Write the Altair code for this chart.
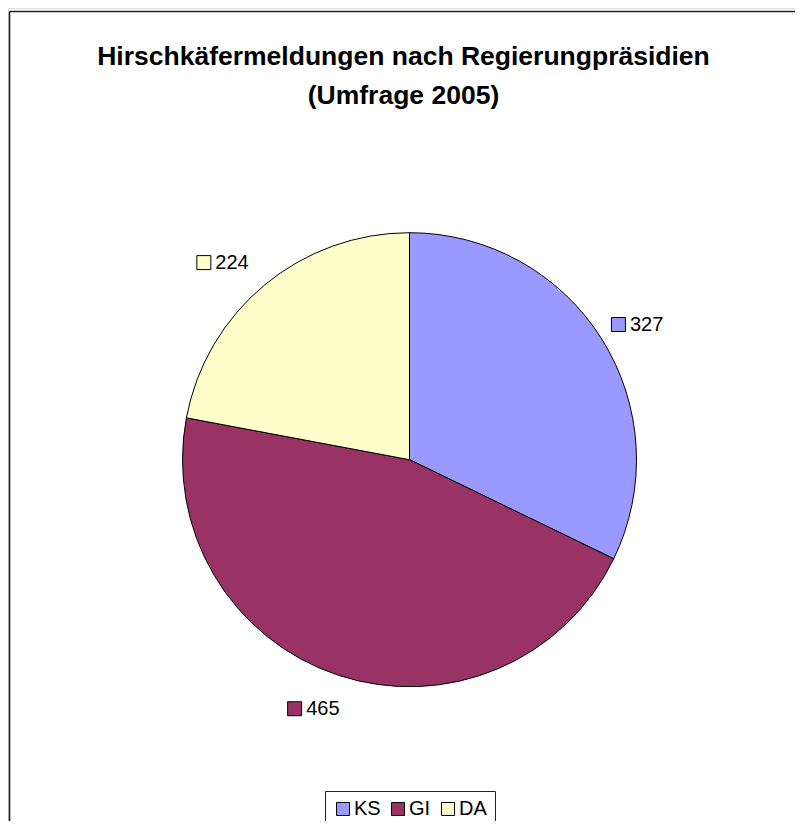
import altair as alt
import pandas as pd

# ---- data ----
regions = ["KS", "GI", "DA"]
values = [327, 465, 224]
colors = ["#9999FF", "#993366", "#FFFFCC"]
title_lines = ["Hirschkäfermeldungen nach Regierungpräsidien", "(Umfrage 2005)"]

df = pd.DataFrame({"region": regions, "value": values, "idx": list(range(len(regions)))})

W, H = 787, 813            # fits the 803x829 window with the 8px page margin
CX, CY = 401.5, 451.7      # pie centre (svg px)
R = 227                    # pie radius
LRX, LRY = 279, 259.5      # label ring radii (outside-end labels)
LCX, LCY = CX - 8, CY + 2.6  # label ring centre
FONT = "Liberation Sans"

color_enc = alt.Color(
    "region:N",
    scale=alt.Scale(domain=regions, range=colors),
    legend=alt.Legend(
        title=None, orient="none", direction="horizontal",
        legendX=317, legendY=783,
        symbolType="square", symbolSize=169, symbolStrokeColor="black",
        symbolStrokeWidth=1, symbolOpacity=1,
        labelFont=FONT, labelFontSize=20, labelColor="black",
        labelOffset=1, columnPadding=7, padding=8,
        strokeColor="#222222", fillColor="white",
    ),
)

base = alt.Chart(df)

pie = base.mark_arc(radius=R, stroke="black", strokeWidth=1, opacity=1).encode(
    theta=alt.Theta("value:Q", stack=True),
    order=alt.Order("idx:Q"),
    color=color_enc,
    x=alt.value(CX),
    y=alt.value(CY),
)

lab = base.transform_joinaggregate(total="sum(value)").transform_window(
    cum="sum(value)", sort=[alt.SortField("idx")], frame=[None, 0]
).transform_calculate(
    mid="2*PI*(datum.cum - datum.value/2)/datum.total"
).transform_calculate(
    lx=f"{LCX} + {LRX}*sin(datum.mid)",
    ly=f"{LCY} - {LRY}*cos(datum.mid)",
).transform_calculate(
    sx="datum.lx - 19.5"
)

squares = lab.mark_square(size=196, stroke="black", strokeWidth=1, opacity=1, filled=True).encode(
    x=alt.X("sx:Q", scale=None),
    y=alt.Y("ly:Q", scale=None),
    color=color_enc,
)

texts = lab.mark_text(align="left", baseline="middle", dx=-8, font=FONT, fontSize=20, color="black").encode(
    x=alt.X("lx:Q", scale=None),
    y=alt.Y("ly:Q", scale=None),
    text=alt.Text("value:Q"),
)

one = alt.Chart(pd.DataFrame({"a": [0]}))
border_top = one.mark_rule(color="#222222", strokeWidth=1.6).encode(
    x=alt.value(1.5), x2=alt.value(W), y=alt.value(3.5)
)
border_left = one.mark_rule(color="#222222", strokeWidth=1.6).encode(
    x=alt.value(1.5), y=alt.value(3.5), y2=alt.value(H)
)

chart = alt.layer(border_top, border_left, pie, squares, texts).properties(
    width=W, height=H,
    autosize=alt.AutoSizeParams(type="none"),
    padding=0,
    title=alt.TitleParams(
        text=title_lines, font=FONT, fontSize=26.5, fontWeight="bold", color="black",
        anchor="start", frame="group", baseline="top", offset=0, dy=101, lineHeight=39,
        align="center", dx=395.5,
    ),
).configure_view(stroke=None).configure(background="white")

chart.save("out.html", embed_options={"renderer": "svg", "actions": False})
